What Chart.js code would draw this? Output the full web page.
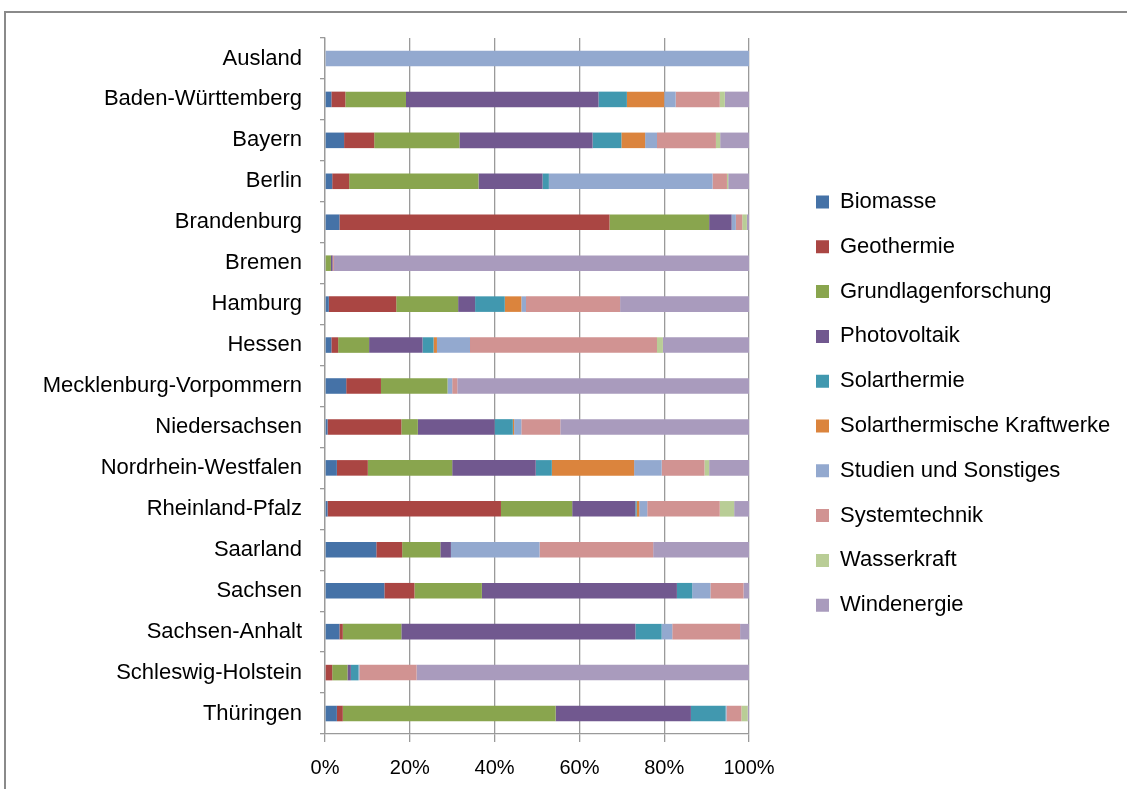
<!DOCTYPE html>
<html>
<head>
<meta charset="utf-8">
<script src="https://cdn.jsdelivr.net/npm/chart.js@4/dist/chart.umd.min.js"></script>
<style>
  html, body { margin: 0; padding: 0; background: #fff; overflow: hidden; }
  #wrap { position: relative; width: 1127px; height: 789px; }
  #frame { position: absolute; left: 4px; top: 11px; width: 1200px; height: 900px;
           border-left: 2px solid #8a8a8a; border-top: 2px solid #8a8a8a; pointer-events: none; }
  canvas { position: absolute; left: 0; top: 0; }
</style>
</head>
<body>
<div id="wrap">
  <canvas id="c" width="1127" height="789"></canvas>
  <div id="frame"></div>
</div>
<script>
const categories = ["Ausland", "Baden-Württemberg", "Bayern", "Berlin", "Brandenburg", "Bremen", "Hamburg", "Hessen",
  "Mecklenburg-Vorpommern", "Niedersachsen", "Nordrhein-Westfalen", "Rheinland-Pfalz", "Saarland", "Sachsen",
  "Sachsen-Anhalt", "Schleswig-Holstein", "Thüringen"];

const seriesNames = ["Biomasse", "Geothermie", "Grundlagenforschung", "Photovoltaik", "Solarthermie",
  "Solarthermische Kraftwerke", "Studien und Sonstiges", "Systemtechnik", "Wasserkraft", "Windenergie"];

const biomasse       = [0, 1.5, 4.5, 1.7, 3.4, 0, 0.9, 1.5, 5.0, 0.6, 2.8, 0.6, 12.1, 14.0, 3.4, 0, 2.8];
const geothermie     = [0, 3.3, 7.1, 4.0, 63.7, 0, 15.9, 1.6, 8.2, 17.4, 7.3, 40.9, 6.1, 7.1, 0.8, 1.7, 1.4];
const grundlagen     = [0, 14.3, 20.1, 30.5, 23.5, 1.4, 14.6, 7.3, 15.7, 3.9, 19.9, 16.8, 9.0, 15.9, 13.8, 3.6, 50.2];
const photovoltaik   = [0, 45.4, 31.4, 15.1, 5.3, 0.4, 4.0, 12.6, 0, 18.1, 19.7, 14.9, 2.5, 46.0, 55.2, 0.8, 31.9];
const solarthermie   = [0, 6.7, 6.8, 1.5, 0, 0, 7.0, 2.6, 0, 4.3, 3.8, 0.3, 0, 3.6, 6.2, 1.8, 8.2];
const solarKraftwerk = [0, 8.8, 5.6, 0, 0, 0, 3.9, 0.8, 0, 0.3, 19.4, 0.6, 0, 0, 0, 0, 0];
const studien        = [100, 2.7, 2.8, 38.6, 1.0, 0, 1.1, 7.8, 1.1, 1.7, 6.5, 1.9, 20.9, 4.3, 2.5, 0.2, 0.2];
const systemtechnik  = [0, 10.4, 13.9, 3.4, 1.5, 0.3, 22.2, 44.1, 1.2, 9.2, 10.1, 17.1, 26.8, 7.8, 16.0, 13.5, 3.5];
const wasserkraft    = [0, 1.2, 1.0, 0.3, 1.1, 0, 0, 1.4, 0, 0, 1.1, 3.4, 0, 0, 0, 0, 1.5];
const windenergie    = [0, 5.7, 6.8, 4.9, 0.5, 97.9, 30.4, 20.3, 68.8, 44.5, 9.4, 3.5, 22.6, 1.3, 2.1, 78.4, 0.3];

const xTickValues = [0, 20, 40, 60, 80, 100];

const seriesData = [biomasse, geothermie, grundlagen, photovoltaik, solarthermie, solarKraftwerk,
  studien, systemtechnik, wasserkraft, windenergie];
const colors = ["#4572A7", "#AA4643", "#89A54E", "#71588F", "#4198AF", "#DB843D",
  "#93A9CF", "#D19392", "#B9CD96", "#A99BBD"];

const FONT = "'Liberation Sans', Arial, sans-serif";
const GRID = "#9a9a9a";

// legend geometry
const LEG_FONT = 22, LEG_BOX = 13, LEG_PAD = 22.8;
const LEG_LEFT = 816 - LEG_PAD;          // legend box left edge
const PLOT_RIGHT = 749;
const mctx = document.createElement('canvas').getContext('2d');
mctx.font = LEG_FONT + "px " + FONT;
const maxText = Math.max(...seriesNames.map(s => mctx.measureText(s).width));
const legendWidth = LEG_PAD + LEG_BOX + LEG_FONT / 2 + maxText + 10;
const padRight = 1127 - LEG_LEFT - legendWidth;

new Chart(document.getElementById('c'), {
  type: 'bar',
  data: {
    labels: categories,
    datasets: seriesNames.map((name, i) => ({
      label: name,
      data: seriesData[i],
      backgroundColor: colors[i],
      borderWidth: 0,
      barPercentage: 0.38,
      categoryPercentage: 1.0
    }))
  },
  options: {
    indexAxis: 'y',
    responsive: false,
    animation: false,
    layout: { padding: { left: 0, top: 18.2, right: padRight, bottom: 0 } },
    plugins: {
      tooltip: { enabled: false },
      title: {
        display: true,
        text: '',
        font: { size: 10, lineHeight: 1.2 },
        padding: { top: 0, bottom: 7.8 }
      },
      legend: {
        position: 'right',
        align: 'center',
        fullSize: true,
        maxWidth: legendWidth + 8,
        labels: {
          boxWidth: LEG_BOX,
          boxHeight: LEG_BOX,
          padding: LEG_PAD,
          color: '#000',
          font: { family: FONT, size: LEG_FONT }
        }
      }
    },
    scales: {
      x: {
        type: 'linear',
        stacked: true,
        min: 0,
        max: 100,
        afterBuildTicks: s => { s.ticks = xTickValues.map(v => ({ value: v })); },
        afterFit: s => { s.height = 55; },
        grid: { color: GRID, lineWidth: 1.3, tickLength: 8, drawTicks: true },
        border: { display: true, color: GRID, width: 1.3 },
        ticks: {
          padding: 14,
          color: '#000',
          font: { family: FONT, size: 20 },
          callback: v => v + '%'
        }
      },
      y: {
        type: 'category',
        stacked: true,
        offset: true,
        afterFit: s => { s.width = 325; },
        grid: { display: true, drawOnChartArea: false, offset: true, tickLength: 5, color: GRID, lineWidth: 1.3 },
        border: { display: true, color: GRID, width: 1.3 },
        ticks: { padding: 18, color: '#000', font: { family: FONT, size: 22 } }
      },
      y2: {
        type: 'category',
        position: 'right',
        labels: categories,
        offset: true,
        afterFit: s => { s.width = LEG_LEFT - PLOT_RIGHT; },
        grid: { display: false, drawTicks: false },
        border: { display: false },
        ticks: { display: false }
      }
    }
  }
});
</script>
</body>
</html>
